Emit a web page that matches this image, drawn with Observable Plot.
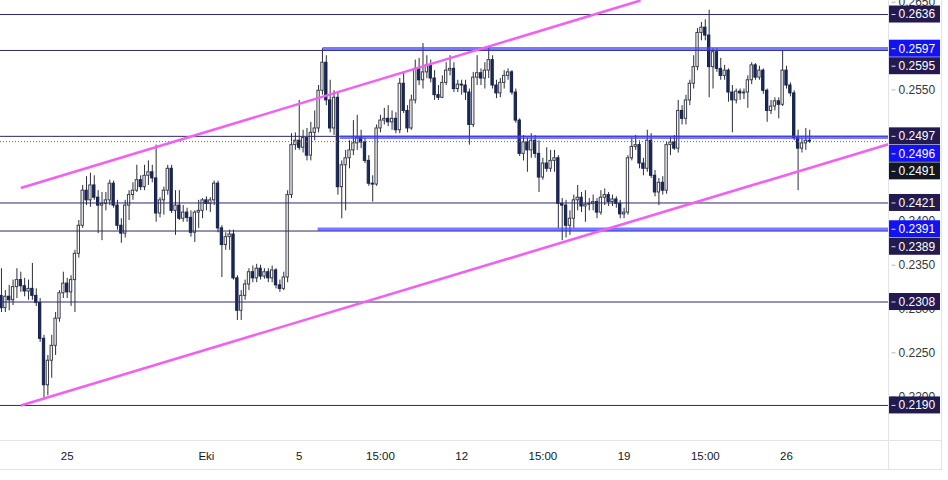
<!DOCTYPE html>
<html>
<head>
<meta charset="utf-8">
<script src="https://cdn.jsdelivr.net/npm/d3@7"></script>
<script src="https://cdn.jsdelivr.net/npm/@observablehq/plot@0.6"></script>
<style>
html, body { margin: 0; padding: 0; background: #fff; }
#wrap { position: relative; width: 948px; height: 480px; overflow: hidden; }
.chrome { position: absolute; background: #e0e3eb; pointer-events: none; }
</style>
</head>
<body>
<div id="wrap">
  <div id="chart"></div>
  <div class="chrome" style="left:0;top:440px;width:942px;height:1px"></div>
  <div class="chrome" style="left:0;top:469px;width:942px;height:1px"></div>
  <div class="chrome" style="left:888px;top:0;width:1px;height:469px"></div>
  <div class="chrome" style="left:941px;top:0;width:1px;height:469px"></div>
</div>
<script>
// ---- 4h candles (XRP/USD, Sep 22 – Oct 27 2020) ----
const firstCandle = "2020-09-22T04:00:00Z";
const candleHours = 4;
const firstOpen = 0.2315;
const close = [
0.2301,0.2314,0.2310,0.2325,0.2333,0.2326,0.2320,0.2323,0.2315,0.2307,
0.2266,0.2213,0.2241,0.2258,0.2289,0.2318,0.2329,0.2319,0.2333,0.2363,
0.2395,0.2435,0.2424,0.2441,0.2427,0.2418,0.2420,0.2424,0.2443,0.2418,
0.2395,0.2386,0.2418,0.2430,0.2435,0.2447,0.2439,0.2452,0.2456,0.2449,
0.2409,0.2424,0.2435,0.2460,0.2412,0.2418,0.2403,0.2410,0.2404,0.2387,
0.2410,0.2412,0.2424,0.2420,0.2424,0.2443,0.2392,0.2373,0.2382,0.2385,
0.2335,0.2298,0.2315,0.2328,0.2342,0.2335,0.2346,0.2337,0.2342,0.2335,
0.2344,0.2327,0.2323,0.2336,0.2430,0.2487,0.2492,0.2484,0.2495,0.2475,
0.2501,0.2506,0.2549,0.2581,0.2538,0.2506,0.2541,0.2439,0.2464,0.2472,
0.2481,0.2489,0.2495,0.2490,0.2469,0.2443,0.2442,0.2506,0.2515,0.2517,
0.2513,0.2517,0.2504,0.2557,0.2526,0.2506,0.2538,0.2574,0.2561,0.2570,
0.2578,0.2563,0.2544,0.2541,0.2558,0.2572,0.2574,0.2551,0.2556,0.2555,
0.2547,0.2510,0.2564,0.2569,0.2563,0.2572,0.2584,0.2555,0.2546,0.2558,
0.2566,0.2570,0.2547,0.2515,0.2477,0.2490,0.2481,0.2492,0.2477,0.2450,
0.2466,0.2460,0.2469,0.2472,0.2420,0.2418,0.2395,0.2403,0.2424,0.2427,
0.2417,0.2419,0.2420,0.2422,0.2410,0.2427,0.2430,0.2422,0.2425,0.2420,
0.2408,0.2410,0.2472,0.2485,0.2487,0.2466,0.2460,0.2492,0.2452,0.2433,
0.2444,0.2435,0.2487,0.2490,0.2483,0.2526,0.2517,0.2538,0.2557,0.2576,
0.2615,0.2621,0.2612,0.2576,0.2593,0.2574,0.2566,0.2572,0.2547,0.2538,
0.2548,0.2546,0.2547,0.2561,0.2578,0.2564,0.2572,0.2549,0.2526,0.2531,
0.2537,0.2533,0.2572,0.2555,0.2546,0.2495,0.2483,0.2489,0.2492,0.2491
];
const high = [
0.2346,0.2321,0.2327,0.2333,0.2346,0.2342,0.2335,0.2333,0.2352,0.2323,
0.2312,0.2270,0.2247,0.2270,0.2296,0.2321,0.2342,0.2335,0.2338,0.2367,
0.2401,0.2441,0.2451,0.2455,0.2452,0.2435,0.2433,0.2433,0.2447,0.2446,
0.2424,0.2403,0.2424,0.2435,0.2444,0.2464,0.2452,0.2464,0.2469,0.2464,
0.2487,0.2427,0.2439,0.2464,0.2464,0.2435,0.2435,0.2418,0.2415,0.2412,
0.2412,0.2424,0.2426,0.2428,0.2427,0.2446,0.2446,0.2395,0.2387,0.2390,
0.2390,0.2338,0.2321,0.2333,0.2346,0.2349,0.2351,0.2350,0.2346,0.2346,
0.2349,0.2346,0.2333,0.2342,0.2435,0.2500,0.2501,0.2538,0.2504,0.2506,
0.2513,0.2526,0.2555,0.2597,0.2589,0.2561,0.2549,0.2547,0.2469,0.2481,
0.2492,0.2515,0.2521,0.2504,0.2495,0.2475,0.2452,0.2510,0.2521,0.2529,
0.2532,0.2526,0.2524,0.2563,0.2570,0.2532,0.2544,0.2584,0.2586,0.2603,
0.2589,0.2584,0.2572,0.2555,0.2566,0.2581,0.2589,0.2581,0.2561,0.2561,
0.2561,0.2551,0.2570,0.2589,0.2574,0.2581,0.2598,0.2589,0.2561,0.2563,
0.2572,0.2574,0.2572,0.2551,0.2517,0.2498,0.2495,0.2500,0.2498,0.2492,
0.2472,0.2484,0.2481,0.2481,0.2475,0.2426,0.2424,0.2412,0.2430,0.2441,
0.2433,0.2435,0.2426,0.2430,0.2426,0.2435,0.2437,0.2433,0.2430,0.2428,
0.2424,0.2415,0.2475,0.2495,0.2498,0.2492,0.2472,0.2504,0.2500,0.2458,
0.2449,0.2451,0.2490,0.2496,0.2498,0.2538,0.2532,0.2544,0.2561,0.2589,
0.2620,0.2627,0.2630,0.2641,0.2597,0.2597,0.2586,0.2578,0.2574,0.2555,
0.2551,0.2551,0.2551,0.2566,0.2581,0.2580,0.2577,0.2574,0.2551,0.2538,
0.2541,0.2541,0.2595,0.2577,0.2558,0.2549,0.2504,0.2495,0.2506,0.2504
];
const low = [
0.2296,0.2296,0.2298,0.2304,0.2312,0.2319,0.2314,0.2310,0.2310,0.2303,
0.2262,0.2196,0.2201,0.2221,0.2247,0.2285,0.2312,0.2312,0.2303,0.2296,
0.2358,0.2392,0.2418,0.2416,0.2424,0.2386,0.2378,0.2412,0.2418,0.2415,
0.2390,0.2375,0.2381,0.2401,0.2424,0.2433,0.2435,0.2435,0.2441,0.2444,
0.2399,0.2404,0.2407,0.2430,0.2409,0.2384,0.2401,0.2399,0.2399,0.2382,
0.2376,0.2392,0.2403,0.2412,0.2410,0.2418,0.2387,0.2336,0.2367,0.2367,
0.2333,0.2287,0.2287,0.2310,0.2321,0.2330,0.2330,0.2333,0.2334,0.2330,
0.2330,0.2323,0.2319,0.2321,0.2330,0.2426,0.2481,0.2481,0.2478,0.2469,
0.2469,0.2492,0.2501,0.2544,0.2532,0.2501,0.2498,0.2430,0.2403,0.2412,
0.2460,0.2475,0.2481,0.2483,0.2466,0.2440,0.2422,0.2440,0.2501,0.2510,
0.2508,0.2504,0.2500,0.2500,0.2523,0.2501,0.2504,0.2534,0.2555,0.2551,
0.2563,0.2558,0.2538,0.2538,0.2540,0.2555,0.2566,0.2547,0.2547,0.2544,
0.2538,0.2487,0.2507,0.2555,0.2555,0.2551,0.2563,0.2551,0.2540,0.2541,
0.2551,0.2561,0.2544,0.2512,0.2474,0.2469,0.2456,0.2472,0.2472,0.2433,
0.2447,0.2456,0.2456,0.2456,0.2392,0.2378,0.2381,0.2384,0.2392,0.2412,
0.2410,0.2399,0.2412,0.2412,0.2403,0.2407,0.2418,0.2417,0.2417,0.2415,
0.2403,0.2403,0.2407,0.2469,0.2481,0.2460,0.2452,0.2456,0.2449,0.2428,
0.2418,0.2430,0.2431,0.2475,0.2481,0.2478,0.2510,0.2510,0.2532,0.2551,
0.2572,0.2606,0.2606,0.2541,0.2551,0.2570,0.2561,0.2561,0.2536,0.2501,
0.2534,0.2538,0.2539,0.2529,0.2556,0.2561,0.2561,0.2545,0.2513,0.2522,
0.2526,0.2517,0.2531,0.2551,0.2542,0.2492,0.2435,0.2478,0.2481,0.2489
];

// ---- drawings ----
const levels = [0.2636, 0.2595, 0.2497, 0.2421, 0.2389, 0.2308, 0.2190];
const zones = [0.2597, 0.2496, 0.2391];
const zoneStarts = ["2020-10-06T00:00:00Z", "2020-10-06T18:00:00Z", "2020-10-05T19:00:00Z"];
const trendStart = ["2020-09-23T00:00:00Z", "2020-09-23T00:00:00Z"];
const trendStartPrice = [0.2438, 0.2190];
const trendEnd = ["2020-10-19T17:00:00Z", "2020-10-30T09:30:00Z"];
const trendEndPrice = [0.2652, 0.2488];

// ---- axes ----
const xTickDates = ["2020-09-25T00:00:00Z","2020-10-01T00:00:00Z","2020-10-05T00:00:00Z","2020-10-08T12:00:00Z",
  "2020-10-12T00:00:00Z","2020-10-15T12:00:00Z","2020-10-19T00:00:00Z","2020-10-22T12:00:00Z","2020-10-26T00:00:00Z"];
const xTickLabels = ["25","Eki","5","15:00","12","15:00","19","15:00","26"];
// price-scale ticks that are not fully covered by a label box
const yTicks = [0.2200,0.2250,0.2300,0.2350,0.2400,0.2550,0.2650];

// ---- layout ----
const W = 948, H = 480, mR = 60, mB = 40;
const xDomain = [new Date("2020-09-22T03:00:00Z"), new Date("2020-10-30T09:30:00Z")];
const yDomain = [0.2150, 0.2652];
const xPix = d3.scaleUtc(xDomain, [0, W - mR]);
const yPix = d3.scaleLinear(yDomain, [H - mB, 0]);
const xAt = px => xPix.invert(px);

const t0 = Date.parse(firstCandle);
const candles = close.map((c, i) => ({
  t: new Date(t0 + i * candleHours * 3600e3),
  open: i ? close[i - 1] : firstOpen,
  close: c, high: high[i], low: low[i]
}));
const half = candleHours * 3600e3 * 0.3;
const upCandles = candles.filter(d => d.close >= d.open);
const downCandles = candles.filter(d => d.close < d.open);

const zoneRows = zones.map((v, i) => ({v, start: new Date(zoneStarts[i])}));
const trendRows = trendStart.map((s, i) => ({
  x1: new Date(s), y1: trendStartPrice[i], x2: new Date(trendEnd[i]), y2: trendEndPrice[i]
}));
const lastClose = close[close.length - 1];

const navy = "#231b50", blue = "#1212f2", black = "#131722";
const labelRows = [
  ...levels.map(v => ({v, fill: navy})),
  ...zones.map(v => ({v, fill: blue})),
  {v: lastClose, fill: black}
].sort((a, b) => b.v - a.v);
let prev = -Infinity;
for (const d of labelRows) {
  const py = Math.max(yPix(d.v), prev + 17.5);
  prev = py;
  d.yc = yPix.invert(py);
  d.y1 = yPix.invert(py - 8.5);
  d.y2 = yPix.invert(py + 8.5);
}
const tickMap = new Map(xTickDates.map((s, i) => [Date.parse(s), xTickLabels[i]]));

const plot = Plot.plot({
  width: W, height: H,
  marginLeft: 0, marginRight: mR, marginTop: 0, marginBottom: mB,
  style: {fontFamily: "'Liberation Sans', Arial, sans-serif", fontSize: "12px", background: "transparent", overflow: "visible"},
  x: {type: "utc", domain: xDomain},
  y: {type: "linear", domain: yDomain},
  marks: [
    // candles
    Plot.ruleX(candles, {x: "t", y1: "low", y2: "high", stroke: "#2a2e39", strokeWidth: 1}),
    Plot.rect(upCandles, {x1: d => new Date(+d.t - half), x2: d => new Date(+d.t + half), y1: "open", y2: "close",
      fill: "#ffffff", stroke: "#3a3d48", strokeWidth: 1}),
    Plot.rect(downCandles, {x1: d => new Date(+d.t - half), x2: d => new Date(+d.t + half), y1: "open", y2: "close",
      fill: "#1b2a5e", stroke: "#16214a", strokeWidth: 1}),
    // drawings
    Plot.ruleY(levels, {stroke: "#2e2966", strokeWidth: 1}),
    Plot.link(zoneRows, {x1: "start", x2: () => xDomain[1], y1: "v", y2: "v",
      stroke: "#4040ff", strokeOpacity: 0.7, strokeWidth: 3.5}),
    Plot.ruleY([lastClose], {stroke: "#6a6d78", strokeWidth: 1, strokeDasharray: "1,2"}),
    Plot.link(trendRows, {x1: "x1", y1: "y1", x2: "x2", y2: "y2", stroke: "#f260f2", strokeWidth: 2.6}),
    // x axis
    Plot.axisX({ticks: xTickDates.map(s => new Date(s)), tickFormat: d => tickMap.get(+d),
      tickSize: 0, tickPadding: 11, fontSize: 11.5, color: "#131722"}),
    // plain price ticks
    Plot.axisY({anchor: "right", ticks: yTicks, tickFormat: d => d.toFixed(4), tickSize: 0, tickPadding: 10,
      fontSize: 12, color: "#333740"}),
    Plot.link(yTicks, {x1: () => xAt(891), x2: () => xAt(895), y1: d => d, y2: d => d, stroke: "#b2b5be"}),
    // price label boxes
    Plot.rect(labelRows, {x1: () => xAt(889), x2: () => xAt(940), y1: "y1", y2: "y2", fill: "fill"}),
    Plot.link(labelRows, {x1: () => xAt(891), x2: () => xAt(895), y1: "yc", y2: "yc", stroke: "#d8d8e8"}),
    Plot.text(labelRows, {x: () => xAt(898), y: "yc", text: d => d.v.toFixed(4), textAnchor: "start",
      fill: "#ffffff", fontSize: 12})
  ]
});
document.getElementById("chart").appendChild(plot);
</script>
</body>
</html>
